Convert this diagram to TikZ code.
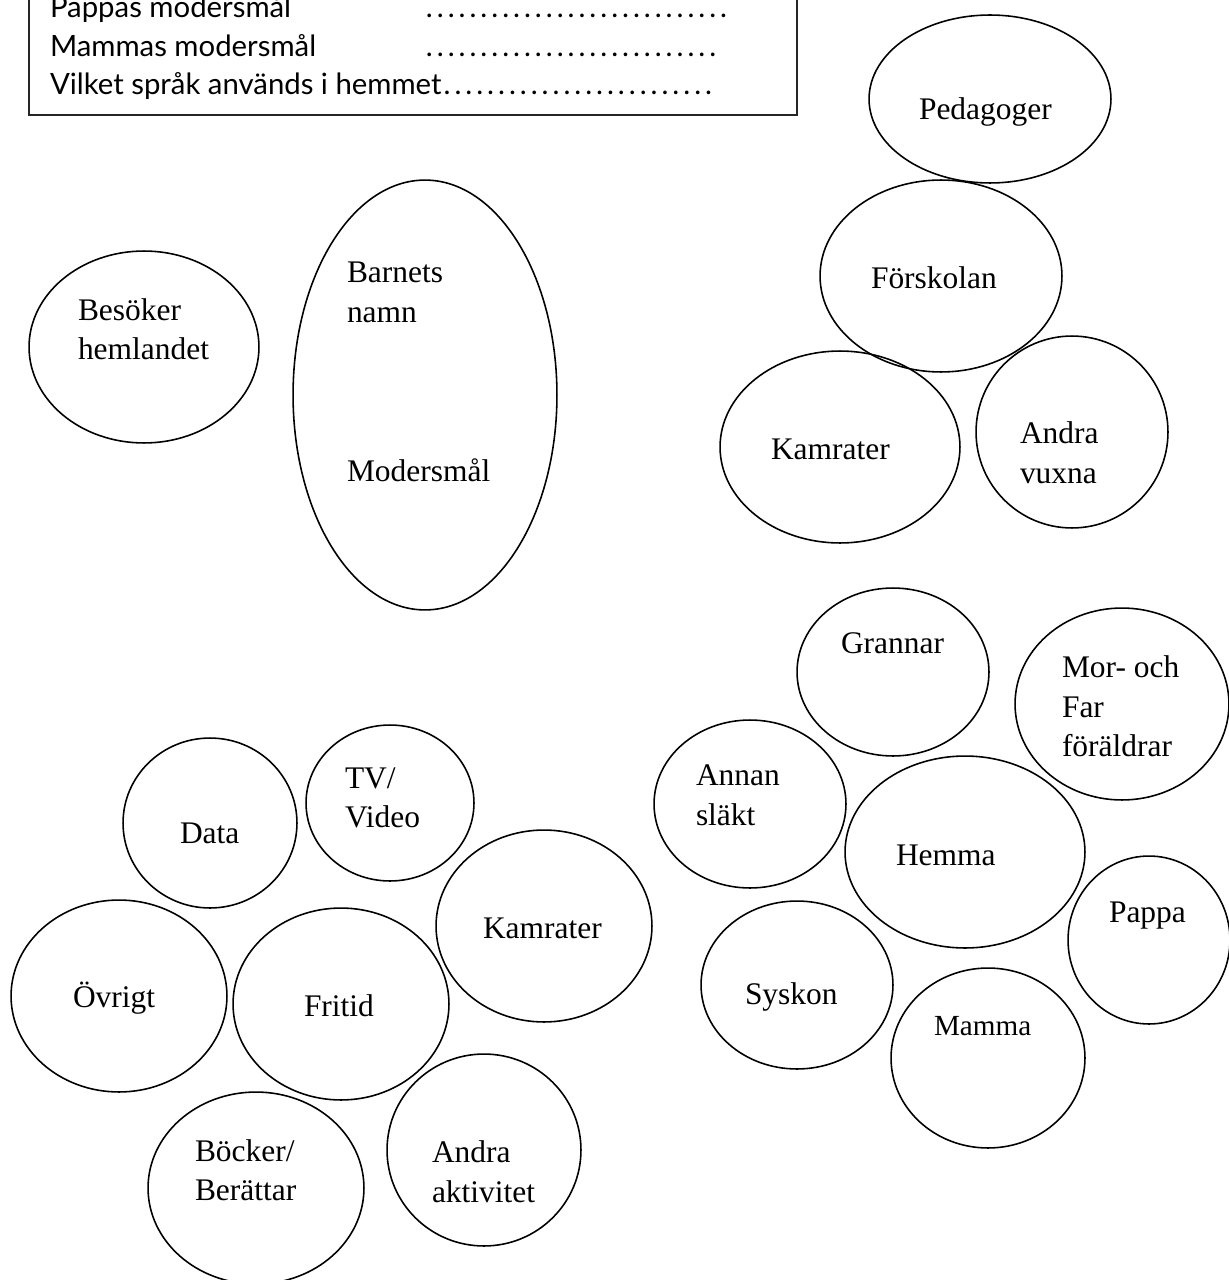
\documentclass[tikz,border=0pt]{standalone}
\usepackage{fontspec}
\setmainfont{Liberation Serif}
\newfontfamily\boxfont{Lato}
\usetikzlibrary{shapes.geometric}
\newcommand\dotrun[1]{\foreach \i in {1,...,#1}{\makebox[0.218cm]{.}}}
\tikzset{
  bub/.style 2 args={ellipse, draw, line width=0.9pt, inner sep=0pt, outer sep=0pt,
    minimum width=#1*0.04cm, minimum height=#2*0.04cm},
  lbl/.style={inner sep=0pt, outer sep=0pt, anchor=base west, font=\fontsize{17.9}{22}\selectfont},
  lblsm/.style={lbl, font=\fontsize{16.6}{20}\selectfont},
  boxtxt/.style={inner sep=0pt, outer sep=0pt, anchor=base west, font=\boxfont\fontsize{16.7}{20}\selectfont},
}
\begin{document}
\begin{tikzpicture}[x=0.02cm, y=-0.02cm]
\useasboundingbox (0,0) rectangle (1229,1280);
% info box
\node[draw=black!85, line width=1.2pt, inner sep=0pt, outer sep=0pt, minimum width=768*0.02cm, minimum height=150*0.02cm] (infobox) at (413,40) {};
\node[boxtxt] (pappas) at (50,18) {Pappas modersmål};
\node[boxtxt] (pappasdots) at (424,18) {\dotrun{28}};
\node[boxtxt] (mammas) at (50,57) {Mammas modersmål};
\node[boxtxt] (mammasdots) at (424,57) {\dotrun{27}};
\node[boxtxt] (vilket) at (50,95) {Vilket språk används i hemmet\dotrun{25}};
% top right group
\node[bub={121}{84}] (ped) at (990,99) {};
\node[bub={121}{96}] (for) at (941,276) {};
\node[bub={120}{96}] (kam1) at (840,447) {};
\node[bub={96}{96}] (andv) at (1072,432) {};
\node[lbl] (pedT) at (919,120) {Pedagoger};
\node[lbl] (forT) at (871,289) {Förskolan};
\node[lbl] (kam1T) at (771,459) {Kamrater};
\node[lbl] (andvT1) at (1020,443) {Andra};
\node[lbl] (andvT2) at (1020,483) {vuxna};
% left middle
\node[bub={115}{96}] (bes) at (144,347) {};
\node[bub={132}{215}] (bar) at (425,395) {};
\node[lbl] (besT1) at (78,320) {Besöker};
\node[lbl] (besT2) at (78,359) {hemlandet};
\node[lbl] (barT1) at (347,283) {Barnets};
\node[lbl] (barT2) at (347,322) {namn};
\node[lbl] (barT3) at (347,481) {Modersmål};
% bottom right group
\node[bub={96}{84}] (gra) at (893,672) {};
\node[bub={107}{96}] (mor) at (1122,704) {};
\node[bub={96}{84}] (ann) at (750,804) {};
\node[bub={120}{96}] (hem) at (965,852) {};
\node[bub={81}{84}] (pap) at (1149,940) {};
\node[bub={96}{84}] (sys) at (797,985) {};
\node[bub={97}{90}] (mam) at (988,1058) {};
\node[lbl] (graT) at (841,653) {Grannar};
\node[lbl] (morT1) at (1062,677) {Mor- och};
\node[lbl] (morT2) at (1062,717) {Far};
\node[lbl] (morT3) at (1062,756) {föräldrar};
\node[lbl] (annT1) at (696,785) {Annan};
\node[lbl] (annT2) at (696,825) {släkt};
\node[lbl] (hemT) at (896,865) {Hemma};
\node[lbl] (papT) at (1109,922) {Pappa};
\node[lbl] (sysT) at (745,1004) {Syskon};
\node[lblsm] (mamT) at (934,1035) {Mamma};
% bottom left group
\node[bub={87}{85}] (dat) at (210,823) {};
\node[bub={84}{78}] (tv) at (390,803) {};
\node[bub={108}{96}] (kam2) at (544,926) {};
\node[bub={108}{96}] (ovr) at (119,996) {};
\node[bub={108}{96}] (fri) at (341,1004) {};
\node[bub={108}{96}] (boc) at (256,1188) {};
\node[bub={97}{96}] (akt) at (484,1150) {};
\node[lbl] (datT) at (180,843) {Data};
\node[lbl] (tvT1) at (345,788) {TV/};
\node[lbl] (tvT2) at (345,827) {Video};
\node[lbl] (kam2T) at (483,938) {Kamrater};
\node[lbl] (ovrT) at (73,1007) {Övrigt};
\node[lbl] (friT) at (304,1016) {Fritid};
\node[lbl] (bocT1) at (195,1161) {Böcker/};
\node[lbl] (bocT2) at (195,1200) {Berättar};
\node[lbl] (aktT1) at (432,1162) {Andra};
\node[lbl] (aktT2) at (432,1202) {aktivitet};
\end{tikzpicture}
\end{document}
